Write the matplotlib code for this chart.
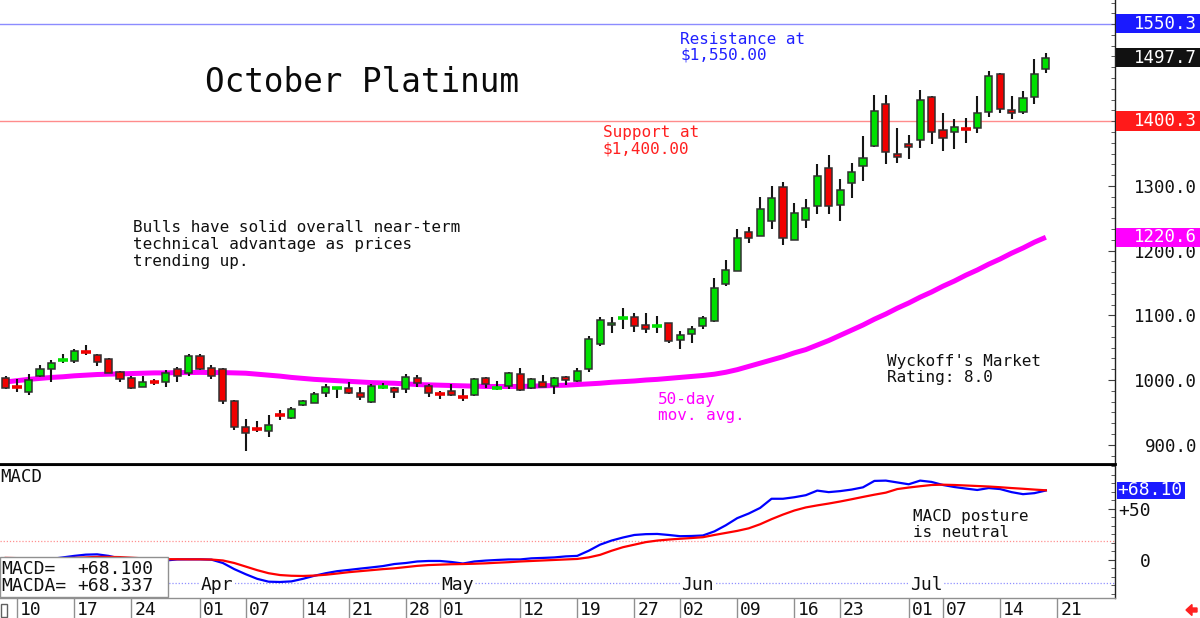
import numpy as np
import pandas as pd
import matplotlib
matplotlib.use("Agg")
import matplotlib.pyplot as plt
import matplotlib.transforms as mtrans
from matplotlib.patches import Rectangle, FancyArrow
from matplotlib.ticker import FixedLocator, MultipleLocator, FuncFormatter

plt.rcParams['font.family'] = ['DejaVu Sans Mono', 'DejaVu Sans']

# ---------------- data ----------------
holidays = ['2025-04-18', '2025-05-26', '2025-06-19', '2025-07-04']
dates = pd.bdate_range('2025-03-07', '2025-07-18')
dates = dates[~dates.isin(pd.to_datetime(holidays))]

opens = [1002.6, 989.5, 982, 1006, 1016.5, 1030.5, 1029.4, 1043, 1038.6, 1032,
         1011.8, 1003.6, 989.7, 996.5, 996.4, 1016.5, 1010.3, 1037, 1018, 1017,
         967.6, 927, 924, 921.2, 946, 940.8, 961.4, 965, 979.4, 987,
         987.1, 980.4, 966.5, 989.5, 987.1, 985.6, 1002.6, 990.7, 978.5, 983,
         973, 976.3, 1002.6, 988, 991.2, 1009.3, 987.1, 997.4, 991.2, 1005.2,
         999, 1017, 1055.3, 1084.6, 1095.5, 1097, 1084.6, 1084, 1087.8, 1062,
         1071.3, 1084.1, 1091.9, 1148, 1169.1, 1229.4, 1223.2, 1246.4, 1298.9, 1216.5,
         1247.4, 1269.6, 1328, 1270.6, 1304, 1330.8, 1362.2, 1426.6, 1349.4, 1364.8,
         1371, 1436.9, 1386.5, 1382.8, 1387.5, 1389, 1414.8, 1472.5, 1417.4, 1414.8,
         1436.9, 1480.7]
highs = [1006, 1001, 1009, 1023, 1031, 1040, 1047.4, 1054, 1040, 1033.5,
         1014.4, 1006, 1006, 1001, 1015.5, 1020.6, 1040, 1040, 1023, 1018,
         969, 939.7, 937, 946, 953.6, 958.8, 969, 982, 993.8, 989.7,
         996.4, 989.7, 993.8, 995.9, 989.7, 1010, 1007.7, 993.3, 983.5, 993.3,
         985.6, 1002.6, 1005, 999, 1012.4, 1018, 1002.6, 1007.7, 1005, 1006,
         1018, 1068, 1098, 1097, 1111, 1104.2, 1104.2, 1099.6, 1088.8, 1075.9,
         1083.6, 1099, 1157.3, 1185.6, 1233, 1236, 1283.5, 1300, 1306.6, 1274,
         1279.9, 1333.4, 1347.8, 1310.8, 1336, 1377.7, 1440.5, 1440.5, 1389, 1378.7,
         1448.3, 1439.5, 1413.2, 1403.4, 1405.5, 1439, 1477.6, 1474, 1439, 1446.7,
         1496.1, 1504.9]
lows = [985.6, 981, 976.8, 1005, 997.4, 1025.7, 1026.8, 1038.6, 1021.6, 1010.3,
        997.4, 986, 988.7, 992.3, 989.7, 997.4, 1006, 1015.5, 1001, 963,
        922.7, 890.3, 919, 911.4, 938, 939.7, 960.4, 964, 973.2, 971.7,
        978.4, 969, 964, 986.6, 971.7, 980.4, 989.7, 974.3, 970, 975.3,
        967, 975.3, 987.1, 984.5, 986.6, 983.5, 986, 988.7, 978.4, 992.3,
        996.4, 1012, 1052, 1073.3, 1078.5, 1074.9, 1072.3, 1072.3, 1056.8, 1048.1,
        1056.8, 1079, 1090.3, 1146, 1169, 1212.4, 1223, 1233, 1208.8, 1216,
        1234.5, 1256.7, 1257.2, 1246.4, 1281.9, 1308.2, 1360.7, 1333.4, 1336, 1341,
        1359.2, 1364.8, 1354, 1357.1, 1365.8, 1381.3, 1407.1, 1412.2, 1402.9, 1411.2,
        1426.1, 1474]
closes = [988.2, 988.5, 999.5, 1017, 1026.8, 1031, 1044.8, 1042.5, 1027.3, 1011.3,
          1001, 987, 997.4, 996, 1010.3, 1006.7, 1037, 1016.5, 1006.7, 968,
          926.9, 917.6, 923.5, 930.5, 945.5, 954.7, 967.6, 978.4, 989.7, 987.5,
          979.4, 974.3, 990.7, 990, 982, 1005, 994.8, 979.4, 978, 976.3,
          972.5, 1001.5, 993.3, 988.5, 1010.3, 984.5, 1001.5, 989.7, 1003.6, 1000,
          1013.9, 1063.5, 1092.9, 1088.8, 1096, 1084.1, 1079.5, 1084.5, 1061, 1069.7,
          1078.6, 1095.5, 1141.8, 1170.2, 1219, 1219.1, 1263.9, 1280.9, 1220, 1257.7,
          1265.4, 1315.4, 1269.6, 1293.8, 1321, 1343.7, 1415.8, 1353, 1344.2, 1359.7,
          1432.8, 1382.8, 1374.6, 1390.6, 1387, 1412.2, 1469.9, 1418.4, 1413.2, 1435.4,
          1472.5, 1497.7]
ma50 = [997, 999, 1001, 1002.5, 1004, 1005, 1006.5, 1007.5, 1008.5, 1009,
        1009.5, 1010, 1010.5, 1011, 1011, 1011.5, 1011.5, 1011.8, 1011.5, 1011.5,
        1011, 1010.5, 1009, 1007.5, 1006, 1004, 1002.5, 1001, 1000, 999,
        998, 997, 996, 995.5, 995, 994, 993, 992.5, 992, 991.5,
        991, 990.5, 990, 990, 990, 990, 990.5, 991, 991.5, 992,
        993, 994, 995, 996.5, 997.5, 998.5, 1000, 1001, 1002.5, 1004,
        1005.5, 1007, 1009, 1012, 1016, 1021, 1026, 1031, 1036, 1042,
        1047, 1054, 1061, 1069, 1077, 1085, 1094, 1102, 1111, 1119,
        1128, 1136, 1145, 1153, 1162, 1170, 1179, 1187, 1196, 1204,
        1213, 1220.6]
macd = [-2, -1.5, -1, 0, 1, 2.5, 4, 5.2, 5.5, 4,
        1.5, 0, -1, -1, -0.5, 0.5, 0.6, 0.6, 0.3, -3,
        -9, -14, -18.5, -21.3, -21.6, -21, -18.5, -15.5, -13, -11,
        -9.8, -8.5, -7.3, -6, -4, -3, -1.5, -1, -1, -2,
        -3.5, -1.5, -0.6, 0, 0.5, 0.5, 1.6, 2, 2.5, 3.5,
        4, 9, 15, 19, 22, 24.5, 25.3, 25.5, 24.5, 23.3,
        23.5, 24, 28, 34, 41, 45.5, 51, 60, 60, 61.5,
        63.5, 68, 66.5, 67.5, 69, 71.2, 77.5, 77.8, 76, 74.2,
        77.8, 76.5, 73.5, 71.5, 70, 68.6, 70.5, 69.5, 66.5, 64.5,
        65.5, 68.1]
macda = [2, 1.8, 1.6, 1.5, 1.5, 1.7, 2, 2.5, 3, 3,
         2.8, 2.2, 1.6, 1.2, 0.8, 0.7, 0.6, 0.6, 0.4, -0.5,
         -3, -6.5, -10, -13, -14.8, -15.5, -15.7, -15.3, -14.5, -13.3,
         -12, -11, -10, -9, -8.2, -7, -5.8, -5, -4.6, -4.2,
         -4, -3.7, -3.3, -2.7, -2.2, -1.5, -1, -0.5, 0, 0.5,
         1, 2.5, 5, 9, 12.5, 15, 17.5, 19, 20, 20.8,
         21.5, 22.3, 24.5, 26.5, 28.5, 31, 35, 40, 44.5, 48.5,
         51.5, 53.5, 55.3, 57.3, 59.5, 61.8, 64, 66, 69.5, 71,
         72.3, 73.5, 73.8, 73.5, 73, 72.5, 72, 71.3, 70.5, 69.8,
         69, 68.3]
macd_last_label = 68.100
macda_last_label = 68.337

resistance = 1550.3
support = 1400.3
price_ticks = [900, 1000, 1100, 1200, 1300]
macd_ticks = [0, 50]
macd_ref_levels = [18.6, -22.5]

tick_dates = ['2025-03-10', '2025-03-17', '2025-03-24', '2025-04-01', '2025-04-07',
              '2025-04-14', '2025-04-21', '2025-04-28', '2025-05-01', '2025-05-12',
              '2025-05-19', '2025-05-27', '2025-06-02', '2025-06-09', '2025-06-16',
              '2025-06-23', '2025-07-01', '2025-07-07', '2025-07-14', '2025-07-21']
tick_labels = ['10', '17', '24', '01', '07', '14', '21', '28', '01', '12',
               '19', '27', '02', '09', '16', '23', '01', '07', '14', '21']
month_dates = ['2025-04-01', '2025-05-01', '2025-06-02', '2025-07-01']
month_labels = ['Apr', 'May', 'Jun', 'Jul']

# ---------------- figure ----------------
W, H = 1200, 618
fig = plt.figure(figsize=(W / 100, H / 100), dpi=100, facecolor='white')


def fx(px):
    return px / W


def fy(py):
    return 1 - py / H


ax = fig.add_axes([0, fy(464), fx(1115), 464 / H])
ax2 = fig.add_axes([0, fy(598), fx(1115), (598 - 465) / H])

o = np.array(opens); h = np.array(highs); l = np.array(lows); c = np.array(closes)
x = np.arange(len(dates))
GREEN, RED = '#00e000', '#f00000'
colors = np.where(c >= o, GREEN, RED)
body = np.abs(c - o)
normal = body >= 2

ax.plot(x, ma50, color='#ff00ff', lw=3.6, zorder=1.5, solid_capstyle='butt')
ax.vlines(x, l, h, color='#151515', lw=1.5, zorder=2)
ax.bar(x[normal], body[normal], bottom=np.minimum(o, c)[normal], width=0.62,
       color=colors[normal], edgecolor='#303030', linewidth=1.1, zorder=3)
ax.hlines(o[~normal], x[~normal] - 0.42, x[~normal] + 0.42, colors=colors[~normal],
          lw=2.6, zorder=3)

ax.axhline(resistance, color='#8c8cff', lw=1, zorder=1)
ax.axhline(support, color='#ff8c8c', lw=1, zorder=1)

xlim = (-0.5, 97.05)
ax.set_xlim(*xlim)
ax.set_ylim(870.2, 1587.3)
ax2.set_xlim(*xlim)
ax2.set_ylim(-37.3, 93.1)

for a in (ax, ax2):
    a.set_facecolor('white')
    a.spines['left'].set_visible(False)
    a.spines['right'].set_color('#202020')
    a.spines['right'].set_linewidth(1)
ax.spines['top'].set_visible(False)
ax.spines['bottom'].set_color('black')
ax.spines['bottom'].set_linewidth(2)
ax2.spines['top'].set_color('black')
ax2.spines['top'].set_linewidth(1.5)
ax2.spines['bottom'].set_color('#909090')
ax2.spines['bottom'].set_linewidth(1)

# main y axis on right
ax.set_xticks([])
ax.yaxis.tick_right()
ax.yaxis.set_major_locator(FixedLocator(price_ticks))
ax.yaxis.set_minor_locator(MultipleLocator(100 / 6))
ax.yaxis.set_major_formatter(FuncFormatter(lambda v, p: f'{v:.1f}'))
ax.tick_params(axis='y', which='major', direction='in', length=5, color='#404040',
               labelsize=12.5, pad=59, labelcolor='#101010')
ax.tick_params(axis='y', which='minor', direction='in', length=3, color='#404040')
plt.setp(ax.get_yticklabels(), ha='right')

bt = mtrans.blended_transform_factory(fig.transFigure, ax.transData)
boxes = [(resistance, '#1a1aff'), (closes[-1], '#111111'), (support, '#ff1a1a'),
         (ma50[-1], '#ff00ff')]
for val, col in boxes:
    ax.add_patch(Rectangle((fx(1116), val - 14.7), fx(84), 29.4, transform=bt,
                           facecolor=col, edgecolor='none', clip_on=False, zorder=5))
    ax.text(fx(1197), val, f'{val:.1f}', transform=bt, ha='right', va='center',
            color='white', fontsize=12.5, clip_on=False, zorder=6)

# MACD panel
ax2.plot(x, macd, color='#0000ff', lw=1.6, zorder=2)
ax2.plot(x, macda, color='#ff0000', lw=1.6, zorder=2)
ax2.axhline(macd_ref_levels[0], color='#ff9090', lw=0.9, ls=(0, (1, 1.5)), zorder=1)
ax2.axhline(macd_ref_levels[1], color='#9090ff', lw=0.9, ls=(0, (1, 1.5)), zorder=1)

ax2.yaxis.tick_right()
ax2.yaxis.set_major_locator(FixedLocator(macd_ticks))
ax2.yaxis.set_minor_locator(MultipleLocator(50 / 6))
ax2.yaxis.set_major_formatter(FuncFormatter(lambda v, p: f'{v:+.0f}' if v else '0'))
ax2.tick_params(axis='y', which='major', direction='in', length=5, color='#404040',
                labelsize=13, pad=26, labelcolor='#101010')
ax2.tick_params(axis='y', which='minor', direction='in', length=3, color='#404040')
plt.setp(ax2.get_yticklabels(), ha='right')

bt2 = mtrans.blended_transform_factory(fig.transFigure, ax2.transData)
ax2.add_patch(Rectangle((fx(1117), macd[-1] - 8.3), fx(68), 16.6, transform=bt2,
                        facecolor='#1a1aff', edgecolor='none', clip_on=False, zorder=5))
ax2.text(fx(1183), macd[-1], f'{macd_last_label:+.2f}', transform=bt2, ha='right',
         va='center', color='white', fontsize=13, clip_on=False, zorder=6)

# x ticks (dates)
tick_idx = dates.searchsorted(pd.to_datetime(tick_dates))
ax2.xaxis.set_major_locator(FixedLocator(tick_idx))
ax2.set_xticklabels(tick_labels)
ax2.tick_params(axis='x', direction='out', length=14.5, width=1, color='#909090',
                labelsize=13, pad=-12.3, labelcolor='#101010')
off = mtrans.ScaledTranslation(3 / 100, 0, fig.dpi_scale_trans)
for lbl in ax2.get_xticklabels():
    lbl.set_ha('left')
    lbl.set_transform(lbl.get_transform() + off)

month_idx = dates.searchsorted(pd.to_datetime(month_dates))
for mi, ml in zip(month_idx, month_labels):
    ax2.text(mi + 0.1, -25.0, ml, ha='left', va='center', fontsize=13, color='#101010',
             zorder=4, bbox=dict(facecolor='white', edgecolor='none', pad=1.0))

# legend box
ax2.add_patch(Rectangle((0, fy(597)), fx(168), (597 - 557) / H, transform=fig.transFigure,
                        facecolor='white', edgecolor='#909090', lw=1, clip_on=False, zorder=4))


def ftext(xp, yb, s, **kw):
    kw.setdefault('color', '#101010')
    kw.setdefault('fontsize', 11.5)
    fig.text(fx(xp), fy(yb), s, va='baseline', ha='left', **kw)


ftext(1, 574, 'MACD=', fontsize=13, zorder=6)
ftext(77, 574, f'{macd_last_label:+.3f}', fontsize=13, zorder=6)
ftext(1, 591, 'MACDA=', fontsize=13, zorder=6)
ftext(77, 591, f'{macda_last_label:+.3f}', fontsize=13, zorder=6)
ftext(0, 482, 'MACD', fontsize=12.5)

# small box at the left of the date row and red arrow at right
fig.patches.append(Rectangle((fx(1), fy(617)), fx(6), 13 / H, transform=fig.transFigure,
                             facecolor='none', edgecolor='#606060', lw=1))
fig.patches.append(FancyArrow(fx(1197), fy(610), -fx(11), 0, width=4 / H,
                              head_width=11 / H, head_length=fx(6),
                              length_includes_head=True, transform=fig.transFigure,
                              color='#ff2020'))

# annotations
ftext(205, 92, 'October Platinum', fontsize=23.5, color='#0a0a0a')
ftext(680, 44, 'Resistance at', color='#2020ff')
ftext(680, 60, '$1,550.00', color='#2020ff')
ftext(603, 137, 'Support at', color='#ff2020')
ftext(603, 153, '$1,400.00', color='#ff2020')
ftext(133, 232, 'Bulls have solid overall near-term')
ftext(133, 249, 'technical advantage as prices')
ftext(133, 266, 'trending up.')
ftext(887, 366, "Wyckoff's Market")
ftext(887, 382, 'Rating: 8.0')
ftext(658, 404, '50-day', color='#ff00ff')
ftext(658, 420, 'mov. avg.', color='#ff00ff')
ftext(913, 521, 'MACD posture')
ftext(913, 537, 'is neutral')

fig.savefig('out.png', dpi=100, facecolor='white')
